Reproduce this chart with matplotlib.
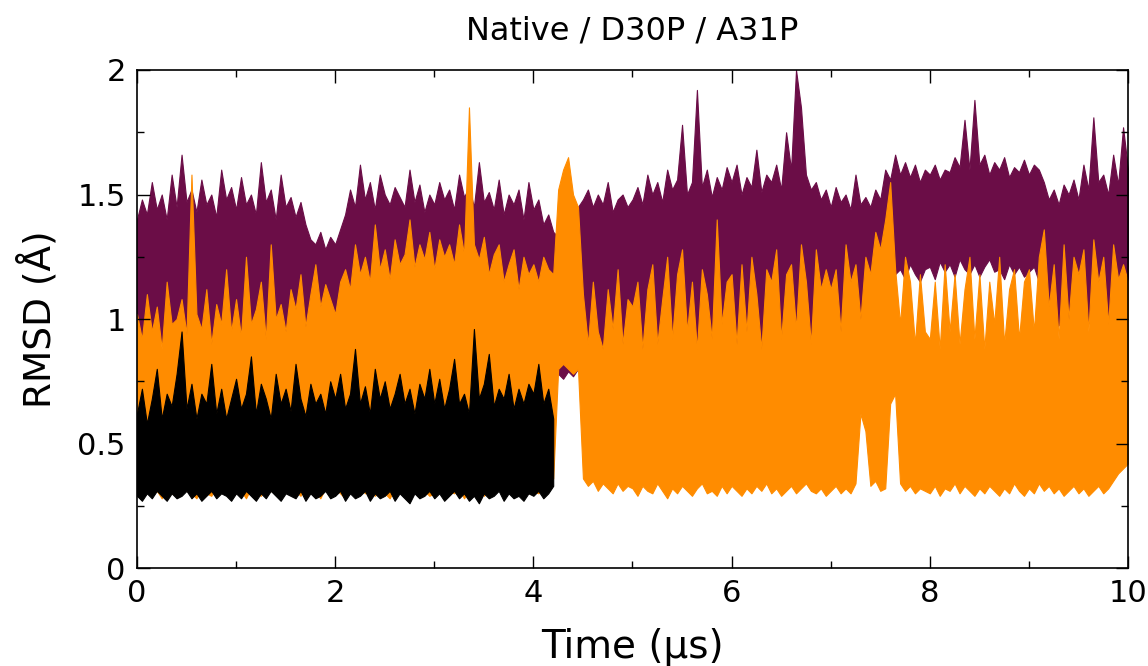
import matplotlib
matplotlib.use("Agg")
import matplotlib.pyplot as plt
import numpy as np
from matplotlib.ticker import MultipleLocator, FormatStrFormatter

# RMSD (Angstrom), local min / max of each trace,
# one value every 0.05 us (20 per row = 1 us)
native_hi = [
    1.40, 1.48, 1.42, 1.55, 1.44, 1.50, 1.40, 1.58, 1.45, 1.66, 1.47, 1.52, 1.43, 1.56, 1.46, 1.50, 1.41, 1.60, 1.48, 1.53,
    1.44, 1.57, 1.46, 1.50, 1.42, 1.63, 1.47, 1.52, 1.40, 1.58, 1.45, 1.49, 1.41, 1.47, 1.38, 1.32, 1.30, 1.35, 1.28, 1.33,
    1.30, 1.36, 1.42, 1.52, 1.45, 1.62, 1.48, 1.55, 1.44, 1.58, 1.50, 1.46, 1.53, 1.49, 1.45, 1.60, 1.47, 1.54, 1.43, 1.50,
    1.46, 1.55, 1.48, 1.52, 1.44, 1.58, 1.49, 1.53, 1.45, 1.63, 1.47, 1.51, 1.44, 1.56, 1.42, 1.50, 1.46, 1.52, 1.40, 1.55,
    1.44, 1.48, 1.38, 1.42, 1.35, 1.33, 1.37, 1.36, 1.40, 1.45, 1.48, 1.52, 1.45, 1.50, 1.46, 1.55, 1.43, 1.48, 1.50, 1.45,
    1.48, 1.53, 1.46, 1.58, 1.50, 1.55, 1.47, 1.60, 1.52, 1.56, 1.78, 1.50, 1.55, 1.92, 1.53, 1.60, 1.49, 1.57, 1.52, 1.61,
    1.55, 1.62, 1.50, 1.57, 1.53, 1.68, 1.51, 1.58, 1.55, 1.62, 1.52, 1.75, 1.60, 2.00, 1.85, 1.58, 1.52, 1.55, 1.48, 1.52,
    1.45, 1.53, 1.47, 1.50, 1.44, 1.58, 1.46, 1.49, 1.45, 1.52, 1.48, 1.60, 1.56, 1.66, 1.58, 1.63, 1.57, 1.62, 1.55, 1.60,
    1.58, 1.62, 1.56, 1.60, 1.59, 1.65, 1.61, 1.80, 1.60, 1.88, 1.62, 1.66, 1.58, 1.63, 1.60, 1.65, 1.57, 1.61, 1.59, 1.64,
    1.58, 1.62, 1.60, 1.55, 1.48, 1.52, 1.46, 1.54, 1.50, 1.56, 1.48, 1.62, 1.52, 1.81, 1.55, 1.58, 1.50, 1.66, 1.54, 1.77,
    1.60,
]
native_lo = [
    0.92, 0.90, 0.94, 0.89, 0.93, 0.91, 0.88, 0.92, 0.95, 0.90, 0.91, 0.87, 0.93, 0.90, 0.94, 0.89, 0.91, 0.93, 0.90, 0.92,
    0.89, 0.93, 0.91, 0.95, 0.90, 0.92, 0.88, 0.94, 0.91, 0.89, 0.93, 0.92, 0.95, 0.97, 0.96, 0.98, 0.97, 0.99, 0.96, 0.98,
    0.95, 0.93, 0.92, 0.90, 0.94, 0.91, 0.93, 0.95, 0.90, 0.92, 0.94, 0.91, 0.93, 0.95, 0.92, 0.90, 0.94, 0.92, 0.91, 0.93,
    0.92, 0.94, 0.90, 0.93, 0.91, 0.95, 0.92, 0.90, 0.94, 0.91, 0.93, 0.92, 0.90, 0.94, 0.91, 0.92, 0.89, 0.93, 0.90, 0.92,
    0.90, 0.88, 0.86, 0.84, 0.80, 0.78, 0.76, 0.79, 0.77, 0.80, 0.82, 0.79, 0.81, 0.78, 0.83, 0.80, 0.79, 0.82, 0.78, 0.81,
    0.84, 0.80, 0.86, 0.82, 0.85, 0.80, 0.83, 0.87, 0.82, 0.85, 0.80, 0.84, 0.87, 0.83, 0.86, 0.81, 0.84, 0.86, 0.81, 0.85,
    0.84, 0.88, 0.82, 0.86, 0.90, 0.85, 0.88, 0.92, 0.86, 0.89, 0.85, 0.90, 0.92, 0.88, 0.93, 0.90, 0.87, 0.91, 0.89, 0.92,
    0.95, 0.89, 0.92, 0.88, 0.91, 0.93, 0.90, 0.88, 0.92, 0.90, 0.93, 0.91, 1.15, 1.18, 1.20, 1.16, 1.22, 1.18, 1.15, 1.20,
    1.21, 1.16, 1.23, 1.19, 1.22, 1.17, 1.24, 1.20, 1.18, 1.22, 1.17, 1.21, 1.24, 1.19, 1.20, 1.16, 1.22, 1.18, 1.21, 1.17,
    1.19, 1.21, 1.15, 1.05, 0.96, 0.94, 0.98, 0.95, 0.97, 0.93, 0.98, 0.95, 0.99, 0.96, 0.94, 0.97, 0.93, 0.96, 1.00, 0.95,
    0.98,
]

d30p_hi = [
    1.02, 0.92, 1.10, 0.95, 1.05, 0.88, 1.15, 0.98, 1.00, 1.08, 0.94, 1.58, 1.02, 0.96, 1.12, 0.90, 1.06, 0.98, 1.20, 0.95,
    1.08, 0.93, 1.25, 0.98, 1.04, 1.15, 0.92, 1.30, 1.00, 1.06, 0.95, 1.12, 1.04, 1.18, 0.97, 1.10, 1.22, 1.05, 1.14, 1.08,
    1.02, 1.15, 1.20, 1.12, 1.30, 1.18, 1.25, 1.15, 1.38, 1.20, 1.28, 1.16, 1.32, 1.22, 1.26, 1.40, 1.21, 1.30, 1.24, 1.35,
    1.20, 1.32, 1.25, 1.30, 1.22, 1.38, 1.26, 1.85, 1.30, 1.24, 1.33, 1.18, 1.26, 1.30, 1.15, 1.22, 1.28, 1.12, 1.25, 1.18,
    1.22, 1.15, 1.25, 1.20, 1.18, 1.52, 1.60, 1.65, 1.50, 1.45, 1.10, 0.90, 1.15, 0.95, 0.88, 1.12, 0.96, 1.20, 0.90, 1.08,
    1.05, 1.15, 0.88, 1.12, 1.22, 0.90, 1.08, 1.25, 0.92, 1.18, 1.28, 0.95, 1.15, 0.88, 1.20, 1.10, 0.92, 1.40, 0.98, 1.15,
    1.18, 0.90, 1.22, 0.95, 1.25, 1.10, 0.88, 1.20, 1.15, 1.28, 0.92, 1.18, 1.22, 0.96, 1.30, 1.15, 0.90, 1.28, 1.12, 1.20,
    1.12, 1.20, 0.95, 1.30, 1.15, 1.22, 1.00, 1.25, 1.18, 1.35, 1.28, 1.40, 1.55, 1.20, 0.98, 1.25, 1.15, 0.90, 1.18, 0.95,
    0.92, 1.15, 0.88, 1.22, 0.95, 1.18, 0.90, 1.12, 1.25, 0.92, 1.18, 0.88, 1.15, 0.98, 1.25, 0.90, 1.12, 1.20, 0.92, 1.15,
    1.20, 0.95, 1.25, 1.36, 1.05, 1.22, 0.92, 1.30, 1.00, 1.25, 1.18, 1.28, 0.95, 1.32, 1.15, 1.25, 0.98, 1.30, 1.16, 1.22,
    1.15,
]
d30p_lo = [
    0.32, 0.29, 0.33, 0.30, 0.31, 0.28, 0.32, 0.30, 0.29, 0.33, 0.31, 0.30, 0.28, 0.32, 0.30, 0.29, 0.33, 0.31, 0.30, 0.32,
    0.30, 0.31, 0.28, 0.32, 0.30, 0.29, 0.33, 0.31, 0.30, 0.28, 0.32, 0.30, 0.31, 0.29, 0.33, 0.30, 0.31, 0.28, 0.32, 0.30,
    0.32, 0.30, 0.28, 0.31, 0.29, 0.33, 0.30, 0.32, 0.29, 0.31, 0.30, 0.28, 0.32, 0.30, 0.31, 0.29, 0.33, 0.30, 0.31, 0.29,
    0.30, 0.33, 0.29, 0.31, 0.30, 0.32, 0.28, 0.31, 0.30, 0.32, 0.29, 0.31, 0.30, 0.33, 0.29, 0.31, 0.30, 0.32, 0.31, 0.30,
    0.31, 0.30, 0.32, 0.34, 0.36, 0.80, 0.82, 0.80, 0.78, 0.80, 0.36, 0.33, 0.35, 0.31, 0.34, 0.32, 0.30, 0.34, 0.31, 0.33,
    0.32, 0.29, 0.33, 0.31, 0.30, 0.34, 0.31, 0.28, 0.32, 0.30, 0.33, 0.31, 0.29, 0.32, 0.34, 0.30, 0.31, 0.29, 0.33, 0.30,
    0.33, 0.31, 0.29, 0.32, 0.30, 0.33, 0.31, 0.34, 0.30, 0.32, 0.29, 0.31, 0.33, 0.30, 0.32, 0.34, 0.31, 0.30, 0.32, 0.29,
    0.31, 0.33, 0.30, 0.32, 0.30, 0.34, 0.62, 0.55, 0.33, 0.35, 0.31, 0.32, 0.66, 0.70, 0.34, 0.31, 0.33, 0.30, 0.32, 0.31,
    0.30, 0.33, 0.29, 0.32, 0.31, 0.34, 0.30, 0.33, 0.31, 0.29, 0.32, 0.30, 0.33, 0.31, 0.29, 0.32, 0.30, 0.34, 0.31, 0.29,
    0.32, 0.30, 0.34, 0.31, 0.33, 0.30, 0.32, 0.29, 0.31, 0.33, 0.30, 0.32, 0.29, 0.31, 0.33, 0.30, 0.32, 0.35, 0.38, 0.40,
    0.42,
]

# A31P only runs to 4.2 us
a31p_hi = [
    0.62, 0.72, 0.58, 0.68, 0.80, 0.60, 0.70, 0.65, 0.78, 0.95, 0.64, 0.74, 0.60, 0.70, 0.66, 0.82, 0.62, 0.72, 0.60, 0.68,
    0.76, 0.64, 0.70, 0.85, 0.62, 0.74, 0.68, 0.60, 0.78, 0.66, 0.72, 0.63, 0.82, 0.68, 0.61, 0.74, 0.66, 0.70, 0.62, 0.75,
    0.68, 0.78, 0.64, 0.70, 0.88, 0.66, 0.73, 0.62, 0.80, 0.68, 0.75, 0.64, 0.70, 0.78, 0.66, 0.72, 0.62, 0.74, 0.68, 0.80,
    0.66, 0.76, 0.64, 0.72, 0.84, 0.66, 0.70, 0.62, 0.96, 0.68, 0.74, 0.86, 0.65, 0.72, 0.68, 0.78, 0.64, 0.72, 0.66, 0.74,
    0.70, 0.82, 0.66, 0.72, 0.60,
]
a31p_lo = [
    0.29, 0.27, 0.30, 0.28, 0.31, 0.29, 0.27, 0.30, 0.28, 0.29, 0.31, 0.28, 0.30, 0.27, 0.29, 0.31, 0.28, 0.30, 0.29, 0.27,
    0.30, 0.28, 0.31, 0.29, 0.27, 0.30, 0.28, 0.31, 0.29, 0.27, 0.30, 0.29, 0.28, 0.31, 0.27, 0.30, 0.28, 0.29, 0.31, 0.28,
    0.29, 0.31, 0.27, 0.30, 0.28, 0.29, 0.31, 0.27, 0.30, 0.28, 0.29, 0.31, 0.27, 0.30, 0.28, 0.26, 0.30, 0.28, 0.29, 0.31,
    0.28, 0.30, 0.27, 0.29, 0.31, 0.28, 0.30, 0.27, 0.29, 0.26, 0.30, 0.28, 0.29, 0.31, 0.27, 0.30, 0.28, 0.29, 0.27, 0.30,
    0.29, 0.31, 0.28, 0.30, 0.33,
]

t_native = np.linspace(0, 10, len(native_hi))
t_d30p = np.linspace(0, 10, len(d30p_hi))
t_a31p = np.linspace(0, 4.2, len(a31p_hi))

plt.rcParams['font.family'] = ['DejaVu Sans']

fig = plt.figure(figsize=(11.48, 6.66), dpi=100)
ax = fig.add_axes([0.1193, 0.1471, 0.8633, 0.7478])

series = [
    (t_native, native_lo, native_hi, '#6b0d47'),
    (t_d30p, d30p_lo, d30p_hi, '#ff8c00'),
    (t_a31p, a31p_lo, a31p_hi, 'black'),
]
for t, lo, hi, c in series:
    ax.fill_between(t, lo, hi, color=c, lw=0.8, edgecolor=c)

ax.set_xlim(0, 10)
ax.set_ylim(0, 2)
ax.xaxis.set_major_locator(MultipleLocator(2))
ax.xaxis.set_minor_locator(MultipleLocator(1))
ax.yaxis.set_major_locator(MultipleLocator(0.5))
ax.yaxis.set_minor_locator(MultipleLocator(0.25))
ax.yaxis.set_major_formatter(FormatStrFormatter('%g'))
ax.tick_params(which='both', direction='in', top=True, right=True, labelsize=22, width=1)
ax.tick_params(which='major', length=9, pad=8)
ax.tick_params(which='minor', length=5)
for s in ax.spines.values():
    s.set_linewidth(1.2)
    s.set_zorder(5)

ax.set_xlabel('Time (µs)', fontsize=28, labelpad=14)
ax.set_ylabel('RMSD (Å)', fontsize=27, labelpad=14)
ax.set_title('Native / D30P / A31P', fontsize=23, pad=22)

fig.savefig('out.png', dpi=100)
